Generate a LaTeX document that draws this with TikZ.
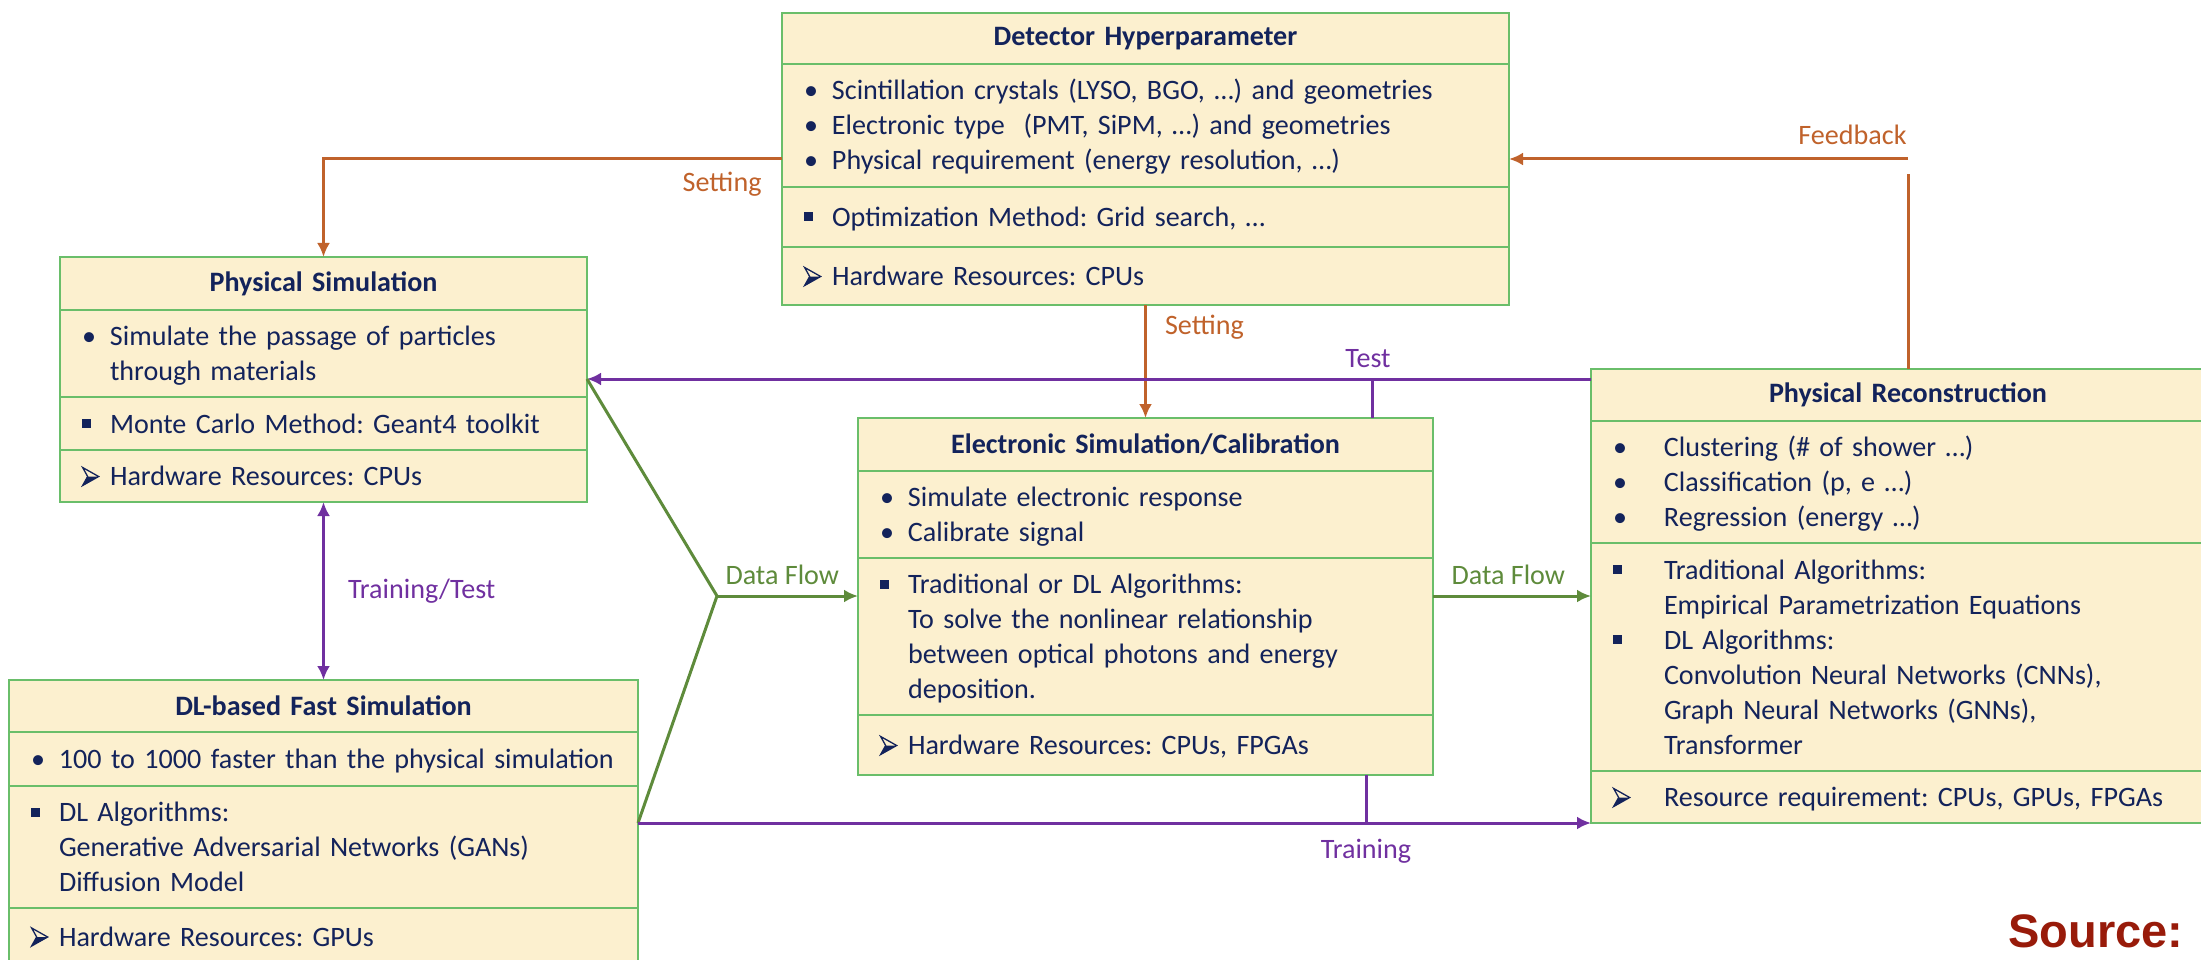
\documentclass[tikz,border=0pt]{standalone}
\usepackage{fontspec}
\usepackage{tikz}
\usepackage{xcolor}
\usetikzlibrary{positioning,arrows.meta}

\setmainfont{Carlito}
\newfontfamily\srcfont{Liberation Sans}
\frenchspacing

\definecolor{boxfill}{HTML}{FCF0CF}
\definecolor{boxgreen}{HTML}{6ABE6A}
\definecolor{navy}{HTML}{13235B}
\definecolor{setorange}{HTML}{C0622B}
\definecolor{testpurple}{HTML}{7030A0}
\definecolor{flowgreen}{HTML}{5E8B3B}
\definecolor{srcred}{HTML}{981B0A}

\newcommand{\bodyfont}{\fontsize{28.1}{35}\selectfont\setbox\strutbox\hbox{\vrule height 27pt depth 8pt width 0pt}}
\newcommand{\bdot}{\textbullet}
\newcommand{\bsq}{\raisebox{5pt}{\rule{9pt}{9pt}}}
\newcommand{\barr}{\tikz[baseline=0pt, x=1pt, y=1pt, line width=1.3pt, line join=miter]{
    \fill[navy] (5,9) -- (16,9) -- (0,0) -- cycle;
    \draw[navy] (0,18) -- (16,9) -- (0,0) -- (5,9) -- cycle;}}
\newenvironment{entries}[1][28pt]{\begin{tabular}{@{}p{#1}@{}l@{}}}{\end{tabular}}

\begin{document}
\begin{tikzpicture}[
    x=1pt, y=-1pt,
    node distance=0pt,
    >={Latex[length=14pt,width=13pt]},
    head/.style={rectangle, draw=boxgreen, fill=boxfill, line width=2.5pt, text=navy, font=\bodyfont\bfseries, align=center, inner xsep=0pt, inner ysep=0pt, outer sep=0pt, minimum height=52pt},
    part/.style={rectangle, draw=boxgreen, fill=boxfill, line width=2.5pt, text=navy, font=\bodyfont, align=left, inner xsep=22pt, inner ysep=0pt, outer sep=0pt},
    setline/.style={draw=setorange, line width=3pt},
    testline/.style={draw=testpurple, line width=3pt},
    dataline/.style={draw=flowgreen, line width=3pt},
    tag/.style={font=\bodyfont, inner sep=0pt}
]
\useasboundingbox (0,0) rectangle (2201,960);

% Detector Hyperparameter
\node[head, text width=727pt, minimum height=51pt, anchor=north west] (det) at (782,13) {Detector Hyperparameter};
\node[part, text width=683pt, minimum height=123pt, below=of det] (det1) {\begin{entries}
\bdot & Scintillation crystals (LYSO, BGO, …) and geometries\\
\bdot & Electronic type~ (PMT, SiPM, …) and geometries\\
\bdot & Physical requirement (energy resolution, …)
\end{entries}};
\node[part, text width=683pt, minimum height=60pt, below=of det1] (det2) {\begin{entries}\bsq & Optimization Method: Grid search, …\end{entries}};
\node[part, text width=683pt, minimum height=58pt, below=of det2] (det3) {\begin{entries}\barr & Hardware Resources: CPUs\end{entries}};

% Physical Simulation
\node[head, text width=527pt, minimum height=53pt, anchor=north west] (physim) at (60,257) {Physical Simulation};
\node[part, text width=483pt, minimum height=87pt, below=of physim] (physim1) {\begin{entries}
\bdot & Simulate the passage of particles\\
 & through materials
\end{entries}};
\node[part, text width=483pt, minimum height=53pt, below=of physim1] (physim2) {\begin{entries}\bsq & Monte Carlo Method: Geant4 toolkit\end{entries}};
\node[part, text width=483pt, minimum height=52pt, below=of physim2] (physim3) {\begin{entries}\barr & Hardware Resources: CPUs\end{entries}};

% DL-based Fast Simulation
\node[head, text width=629pt, minimum height=52pt, anchor=north west] (dlsim) at (9,680) {DL-based Fast Simulation};
\node[part, text width=585pt, minimum height=54pt, below=of dlsim] (dlsim1) {\begin{entries}\bdot & 100 to 1000 faster than the physical simulation\end{entries}};
\node[part, text width=585pt, minimum height=122pt, below=of dlsim1] (dlsim2) {\begin{entries}
\bsq & DL Algorithms:\\
 & Generative Adversarial Networks (GANs)\\
 & Diffusion Model
\end{entries}};
\node[part, text width=585pt, minimum height=57pt, below=of dlsim2] (dlsim3) {\begin{entries}\barr & Hardware Resources: GPUs\end{entries}};

% Electronic Simulation/Calibration
\node[head, text width=575pt, minimum height=53pt, anchor=north west] (elec) at (858,418) {Electronic Simulation/Calibration};
\node[part, text width=531pt, minimum height=87pt, below=of elec] (elec1) {\begin{entries}
\bdot & Simulate electronic response\\
\bdot & Calibrate signal
\end{entries}};
\node[part, text width=531pt, minimum height=157pt, below=of elec1] (elec2) {\begin{entries}
\bsq & Traditional or DL Algorithms:\\
 & To solve the nonlinear relationship\\
 & between optical photons and energy\\
 & deposition.
\end{entries}};
\node[part, text width=531pt, minimum height=60pt, below=of elec2] (elec3) {\begin{entries}\barr & Hardware Resources: CPUs, FPGAs\end{entries}};

% Physical Reconstruction
\node[head, text width=634pt, minimum height=52pt, anchor=north west] (reco) at (1591,369) {Physical Reconstruction};
\node[part, text width=590pt, minimum height=122pt, below=of reco] (reco1) {\begin{entries}[51pt]
\bdot & Clustering (\# of shower …)\\
\bdot & Classification (p, e …)\\
\bdot & Regression (energy …)
\end{entries}};
\node[part, text width=590pt, minimum height=228pt, below=of reco1] (reco2) {\begin{entries}[51pt]
\bsq & Traditional Algorithms:\\
 & Empirical Parametrization Equations\\
\bsq & DL Algorithms:\\
 & Convolution Neural Networks (CNNs),\\
 & Graph Neural Networks (GNNs),\\
 & Transformer
\end{entries}};
\node[part, text width=590pt, minimum height=52pt, below=of reco2] (reco3) {\begin{entries}[51pt]\barr & Resource requirement: CPUs, GPUs, FPGAs\end{entries}};

% Source
\node[anchor=base west, inner sep=0pt, font=\srcfont\fontsize{47}{47}\selectfont\bfseries, text=srcred] (source) at (2008,947) {Source:};

% Junctions
\coordinate (fbend) at (1908,159);
\coordinate (fbgap) at (1908,174);
\coordinate (tjoin) at (1372,379);
\coordinate (dfjoin) at (717,596);
\coordinate (trjoin) at (1366,823);

% Setting
\draw[setline, ->] (det1.west |- fbend) node[tag, anchor=base east, xshift=-19pt, yshift=-33pt, text=setorange] (setleft) {Setting} -| (physim.north);
\draw[setline, ->] (det3.south) -- node[tag, pos=0.2, anchor=west, xshift=18pt, text=setorange] (setmid) {Setting} (elec.north);

% Feedback
\draw[setline] (reco.north) -- (fbgap);
\draw[setline, ->] (fbend) node[tag, anchor=base east, yshift=14pt, text=setorange] (feedtag) {Feedback} -- (det1.east |- fbend);

% Test
\draw[testline, ->] (reco.west |- tjoin) -- (physim.east |- tjoin);
\draw[testline] (tjoin) node[tag, anchor=base, xshift=-4pt, yshift=12pt, text=testpurple] (testtag) {Test} -- (elec.north -| tjoin);

% Training/Test
\draw[testline, <->] (physim3.south) -- node[tag, anchor=west, xshift=23pt, text=testpurple] (tttag) {Training/Test} (dlsim.north);

% Data flow
\draw[dataline, line join=round] (physim.east |- tjoin) -- (dfjoin) -- (dlsim.east |- trjoin);
\draw[dataline, ->] (dfjoin) node[tag, anchor=base west, xshift=7pt, yshift=12pt, text=flowgreen] (dfleft) {Data Flow} -- (elec.west |- dfjoin);
\draw[dataline, ->] (elec.east |- dfjoin) node[tag, anchor=base west, xshift=17pt, yshift=12pt, text=flowgreen] (dfright) {Data Flow} -- (reco.west |- dfjoin);

% Training
\draw[testline, ->] (dlsim.east |- trjoin) -- (reco.west |- trjoin);
\draw[testline] (elec3.south -| trjoin) -- (trjoin) node[tag, anchor=base, yshift=-35pt, text=testpurple] (trtag) {Training};

\end{tikzpicture}
\end{document}
